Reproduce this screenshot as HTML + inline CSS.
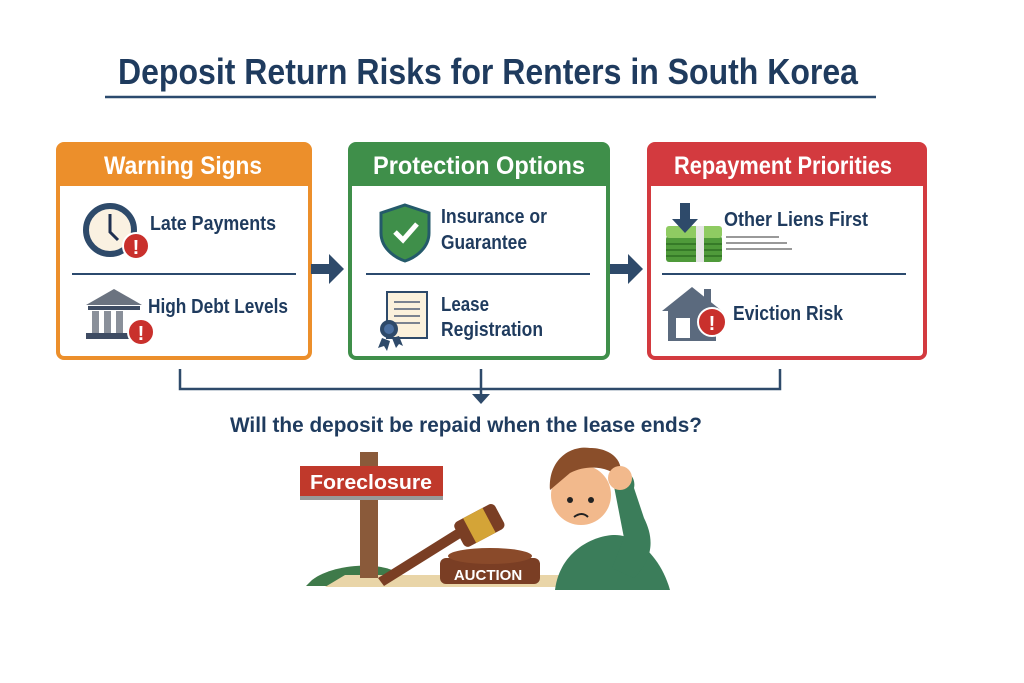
<!DOCTYPE html>
<html><head><meta charset="utf-8"><style>
html,body{margin:0;padding:0;background:#fff;width:1024px;height:683px;overflow:hidden}
text{font-family:"Liberation Sans Narrow","Liberation Sans",sans-serif;font-weight:bold}
</style></head><body>
<svg width="1024" height="683" viewBox="0 0 1024 683" xmlns="http://www.w3.org/2000/svg">
<rect width="1024" height="683" fill="#fff"/>
<text x="488" y="84" text-anchor="middle" font-size="36" fill="#1f3b5e" textLength="740" lengthAdjust="spacingAndGlyphs">Deposit Return Risks for Renters in South Korea</text>
<line x1="105" y1="97" x2="876" y2="97" stroke="#2b4a6e" stroke-width="2.5"/>

<!-- Orange box -->
<rect x="58" y="144" width="252" height="214" rx="6" fill="#fff" stroke="#ec8f2b" stroke-width="4"/>
<path d="M58 150a6 6 0 0 1 6-6h240a6 6 0 0 1 6 6v36H58z" fill="#ec8f2b"/>
<text x="183" y="174" text-anchor="middle" font-size="25" fill="#fff" textLength="158" lengthAdjust="spacingAndGlyphs">Warning Signs</text>
<line x1="72" y1="274" x2="296" y2="274" stroke="#2b4a6e" stroke-width="2"/>
<circle cx="110" cy="230" r="24" fill="#faf1e1" stroke="#2e4a6a" stroke-width="6"/>
<path d="M110 214v18l8 8" stroke="#1f3050" stroke-width="3" fill="none"/>
<circle cx="136" cy="246" r="13" fill="#c9302c" stroke="#fff" stroke-width="2"/>
<text x="136" y="254" text-anchor="middle" font-size="20" fill="#fff">!</text>
<text x="150" y="230" font-size="20" fill="#1f3b5e" textLength="126" lengthAdjust="spacingAndGlyphs">Late Payments</text>
<path d="M86 305l28-16 28 16z" fill="#6b7380"/>
<rect x="88" y="306" width="52" height="4" fill="#3e4c63"/>
<rect x="92" y="311" width="7" height="22" fill="#8a909a"/><rect x="104" y="311" width="7" height="22" fill="#8a909a"/><rect x="116" y="311" width="7" height="22" fill="#8a909a"/>
<rect x="86" y="333" width="44" height="6" fill="#3e4c63"/>
<circle cx="141" cy="332" r="13" fill="#c9302c" stroke="#fff" stroke-width="2"/>
<text x="141" y="340" text-anchor="middle" font-size="20" fill="#fff">!</text>
<text x="148" y="313" font-size="20" fill="#1f3b5e" textLength="140" lengthAdjust="spacingAndGlyphs">High Debt Levels</text>

<!-- Green box -->
<rect x="350" y="144" width="258" height="214" rx="6" fill="#fff" stroke="#3f8f4a" stroke-width="4"/>
<path d="M350 150a6 6 0 0 1 6-6h246a6 6 0 0 1 6 6v36H350z" fill="#3f8f4a"/>
<text x="479" y="174" text-anchor="middle" font-size="25" fill="#fff" textLength="212" lengthAdjust="spacingAndGlyphs">Protection Options</text>
<line x1="366" y1="274" x2="590" y2="274" stroke="#2b4a6e" stroke-width="2"/>
<path d="M405 205l24 8v20c0 14-12 24-24 28-12-4-24-14-24-28v-20z" fill="#3f8f4a" stroke="#245a6a" stroke-width="3"/>
<path d="M395 232l8 8 14-16" stroke="#fff" stroke-width="5" fill="none"/>
<text x="441" y="223" font-size="20" fill="#1f3b5e" textLength="106" lengthAdjust="spacingAndGlyphs">Insurance or</text>
<text x="441" y="249" font-size="20" fill="#1f3b5e" textLength="86" lengthAdjust="spacingAndGlyphs">Guarantee</text>
<rect x="387" y="292" width="40" height="46" fill="#fbf1dc" stroke="#2e4a6a" stroke-width="2"/>
<g stroke="#7a8290" stroke-width="2"><line x1="394" y1="302" x2="420" y2="302"/><line x1="394" y1="309" x2="420" y2="309"/><line x1="394" y1="316" x2="420" y2="316"/><line x1="394" y1="323" x2="420" y2="323"/></g>
<path d="M382 338l-4 10 6-2 3 5 3-10zM392 338l4 10 3-4 4 2-4-10z" fill="#2e4a6a"/>
<circle cx="389" cy="329" r="9" fill="#2e4a6a"/><circle cx="389" cy="329" r="5" fill="#4a6fa0"/>
<text x="441" y="311" font-size="20" fill="#1f3b5e" textLength="48" lengthAdjust="spacingAndGlyphs">Lease</text>
<text x="441" y="336" font-size="20" fill="#1f3b5e" textLength="102" lengthAdjust="spacingAndGlyphs">Registration</text>

<!-- Red box -->
<rect x="649" y="144" width="276" height="214" rx="6" fill="#fff" stroke="#d33a3f" stroke-width="4"/>
<path d="M649 150a6 6 0 0 1 6-6h264a6 6 0 0 1 6 6v36H649z" fill="#d33a3f"/>
<text x="783" y="174" text-anchor="middle" font-size="25" fill="#fff" textLength="218" lengthAdjust="spacingAndGlyphs">Repayment Priorities</text>
<line x1="662" y1="274" x2="906" y2="274" stroke="#2b4a6e" stroke-width="2"/>
<g>
<rect x="666" y="236" width="56" height="26" rx="3" fill="#4f9a3a"/>
<g stroke="#2f6f22" stroke-width="1.5"><line x1="666" y1="244" x2="722" y2="244"/><line x1="666" y1="250" x2="722" y2="250"/><line x1="666" y1="256" x2="722" y2="256"/></g>
<rect x="666" y="226" width="56" height="12" rx="3" fill="#8fcb62"/>
<rect x="696" y="226" width="8" height="36" fill="#e6e6e6"/>
<path d="M680 203h10v16h8l-13 14-13-14h8z" fill="#2e4a6a"/>
</g>
<g stroke="#999" stroke-width="2"><line x1="726" y1="237" x2="779" y2="237"/><line x1="726" y1="243" x2="787" y2="243"/><line x1="726" y1="249" x2="792" y2="249"/></g>
<text x="724" y="226" font-size="20" fill="#1f3b5e" textLength="144" lengthAdjust="spacingAndGlyphs">Other Liens First</text>
<path d="M662 311l30-24 30 24h-6v30h-48v-30z" fill="#5b6a7e"/>
<rect x="676" y="318" width="14" height="20" fill="#fff"/>
<rect x="704" y="289" width="7" height="14" fill="#5b6a7e"/>
<circle cx="712" cy="322" r="14" fill="#c9302c" stroke="#fff" stroke-width="2"/>
<text x="712" y="330" text-anchor="middle" font-size="20" fill="#fff">!</text>
<text x="733" y="320" font-size="20" fill="#1f3b5e" textLength="110" lengthAdjust="spacingAndGlyphs">Eviction Risk</text>

<!-- arrows -->
<path d="M311 264h18v-10l15 15-15 15v-10h-18z" fill="#2e4a6a"/>
<path d="M610 264h18v-10l15 15-15 15v-10h-18z" fill="#2e4a6a"/>

<!-- bracket -->
<path d="M180 369v20h600v-20" stroke="#2e4a6a" stroke-width="2.5" fill="none"/>
<line x1="481" y1="369" x2="481" y2="396" stroke="#2e4a6a" stroke-width="2.5"/>
<path d="M472 394h18l-9 10z" fill="#2e4a6a"/>
<text x="466" y="432" text-anchor="middle" font-size="21" fill="#1f3b5e" textLength="472" lengthAdjust="spacingAndGlyphs">Will the deposit be repaid when the lease ends?</text>

<!-- illustration -->
<path d="M312 580c20-15 60-18 80-10l10 16h-96z" fill="#3f7a4a"/>
<path d="M345 575l220 0 20 12h-260z" fill="#e9d5a8"/>
<rect x="360" y="452" width="18" height="126" fill="#8a5a3a"/>
<rect x="300" y="466" width="143" height="30" fill="#c0392b"/>
<rect x="300" y="496" width="143" height="4" fill="#999"/>
<text x="371" y="489" text-anchor="middle" font-size="20" fill="#fff" textLength="122" lengthAdjust="spacingAndGlyphs">Foreclosure</text>
<rect x="440" y="558" width="100" height="26" rx="6" fill="#7a3e24"/>
<ellipse cx="490" cy="556" rx="42" ry="8" fill="#8a4a2a"/>
<text x="488" y="580" text-anchor="middle" font-size="15" fill="#fff">AUCTION</text>
<path d="M378 578l80-50 6 8-80 50z" fill="#7a3e24"/>
<g transform="rotate(-28 478 525)"><rect x="456" y="512" width="46" height="28" rx="5" fill="#7a3e24"/><rect x="468" y="512" width="22" height="28" fill="#d4a437"/></g>
<path d="M555 590c5-40 40-55 60-55s45 20 55 55z" fill="#3b7d5a"/>
<circle cx="581" cy="495" r="30" fill="#f2b98c"/>
<path d="M550 490c-2-30 20-45 40-42 20 0 35 12 30 30-10-10-30-15-50-5z" fill="#8a4e2a"/>
<path d="M612 476c10-10 25-2 22 12l10 30c10 20 10 40-10 60l-22-10 12-30z" fill="#3b7d5a"/>
<circle cx="620" cy="478" r="12" fill="#f2b98c"/>
<circle cx="570" cy="500" r="3" fill="#222"/><circle cx="591" cy="500" r="3" fill="#222"/>
<path d="M574 517q8-6 14 0" stroke="#222" stroke-width="2" fill="none"/>
</svg>
</body></html>
